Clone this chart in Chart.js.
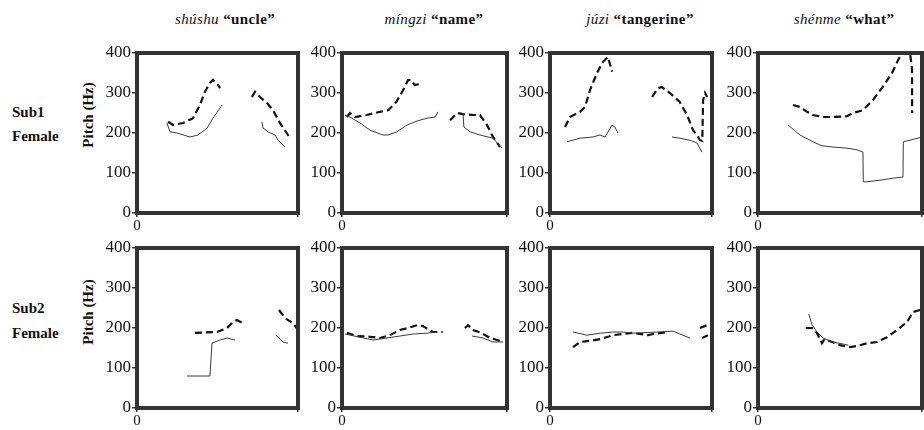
<!DOCTYPE html>
<html>
<head>
<meta charset="utf-8">
<script src="https://cdn.jsdelivr.net/npm/chart.js@4"></script>
<style>
  body { margin: 0; background: #fff; overflow: hidden; }
  #figure { position: relative; width: 924px; height: 430px; font-family: 'Liberation Serif', 'Times New Roman', serif; color: #111; }
  #figure canvas { position: absolute; }
  .word-title { position: absolute; top: 9px; font-size: 15px; line-height: 20px; white-space: nowrap; transform: translateX(-50%); letter-spacing: 0.4px; }
  .word-title i { font-weight: normal; }
  .word-title b { font-weight: bold; }
  .row-label { position: absolute; left: 12px; font-size: 15px; font-weight: bold; line-height: 18px; white-space: nowrap; transform: translateY(-50%); }
  .axis-title { position: absolute; font-size: 15px; font-weight: bold; white-space: nowrap; transform: translate(-50%, -50%) rotate(-90deg); }
</style>
</head>
<body>
<div id="figure">
  <div class="word-title" style="left:225px"><i>shúshu</i> <b>“uncle”</b></div>
  <div class="word-title" style="left:434px"><i>míngzi</i> <b>“name”</b></div>
  <div class="word-title" style="left:640px"><i>júzi</i> <b>“tangerine”</b></div>
  <div class="word-title" style="left:844px"><i>shénme</i> <b>“what”</b></div>

  <div class="row-label" style="top:112px">Sub1</div>
  <div class="row-label" style="top:136px">Female</div>
  <div class="row-label" style="top:308px">Sub2</div>
  <div class="row-label" style="top:333px">Female</div>

  <div class="axis-title" style="left:88px; top:115px">Pitch (Hz)</div>
  <div class="axis-title" style="left:88px; top:312px">Pitch (Hz)</div>
</div>
<script>
  'use strict';

  // Pitch tracks: [normalised time (%), pitch (Hz)], null marks a break in the track
  const sub1ShushuSolid = [[18.6, 225], [20.5, 203], [24.8, 200], [32.9, 190], [37.9, 195], [43.5, 212], [47.2, 237], [52.8, 270], null,
    [77.6, 228], [78.3, 212], [81.4, 203], [85.7, 195], [87.6, 182], [91.9, 165]];
  const sub1ShushuDashed = [[19.3, 228], [22.4, 220], [28.6, 225], [34.8, 237], [39.1, 270], [42.2, 303], [45.3, 325], [47.2, 333], [50.3, 320], [51.6, 312], null,
    [71.4, 290], [73.3, 303], [76.4, 290], [80.7, 275], [84.5, 257], [88.8, 225], [93, 200], [95, 187]];

  const sub1MingziSolid = [[1.8, 245], [4.8, 240], [10.9, 225], [17, 207], [24.8, 195], [27.9, 195], [33.3, 203], [39.4, 220], [45.5, 230], [51.5, 237], [56.4, 240], [58.2, 253], null,
    [73.3, 250], [73.9, 215], [77.6, 203], [83.6, 195], [88.5, 190], [91.5, 187], [97, 162]];
  const sub1MingziDashed = [[3, 240], [4.8, 250], [7.9, 240], [15, 245], [23, 253], [28, 257], [33, 278], [37, 307], [40, 332], [42, 332], [44, 320], [46.7, 322], null,
    [65.5, 232], [69.7, 250], [73.3, 247], [79.4, 245], [83.6, 245], [87.9, 220], [91.5, 190], [95.8, 165]];

  const sub1JuziSolid = [[10.5, 178], [18.5, 187], [26.5, 190], [30.9, 195], [34, 190], [38.3, 220], [40, 215], [42, 200], null,
    [75.3, 190], [80, 187], [86.4, 182], [90.7, 175], [93.8, 152]];
  const sub1JuziDashed = [[9.3, 215], [12.3, 240], [18.5, 253], [21.6, 265], [24.7, 307], [29, 350], [32.7, 378], [35.8, 390], [38.3, 353], null,
    [63, 290], [66.7, 312], [69, 315], [74, 300], [80, 278], [84.6, 245], [88.3, 207], [90.7, 195], [92.6, 182], [94, 180], [94.5, 282], [95.7, 300], [97, 290]];

  const sub1ShenmeSolid = [[18.3, 220], [20.7, 212], [25.6, 195], [33.5, 178], [39, 168], [45.7, 165], [54.3, 162], [60.4, 158], [64, 152], [64.2, 78],
    [66.5, 78], [74.4, 82], [82.3, 87], [88.4, 90], [88.6, 178], [92.7, 182], [100, 190]];
  const sub1ShenmeDashed = [[21.3, 270], [25.6, 265], [29.9, 253], [33.5, 245], [39.6, 240], [45.7, 240], [54.3, 242], [57.9, 250], [64, 257], [70, 282],
    [76, 315], [81.7, 350], [85.4, 382], [87.8, 400], [92.7, 400], [93.9, 360], [94, 250]];

  const sub2ShushuSolid = [[31, 80], [45.3, 80], [46.6, 162], [51.5, 170], [55.9, 175], [60.9, 170], null,
    [86.3, 182], [90.7, 165], [93.8, 162]];
  const sub2ShushuDashed = [[36, 188], [49.7, 190], [55.9, 200], [59.6, 215], [62, 220], [65.8, 212], null,
    [88.2, 245], [91.9, 225], [96.9, 212], [100, 195]];

  const sub2MingziSolid = [[1.8, 185], [9.7, 178], [18.8, 170], [27.3, 175], [35.2, 180], [43, 185], [51.5, 187], [57.6, 190], null,
    [78.8, 180], [85.5, 175], [91.5, 165], [97.6, 165]];
  const sub2MingziDashed = [[3, 188], [9, 180], [17, 178], [23, 175], [29, 182], [35, 195], [40, 200], [45.5, 207], [49, 205], [55, 190], [61, 190], null,
    [74.5, 200], [76.4, 207], [79.4, 195], [84.8, 187], [89.7, 175], [95.8, 168], [98, 168]];

  const sub2JuziSolid = [[14.2, 190], [22.8, 182], [30.9, 187], [38.9, 190], [45, 190], [51, 187], [66.7, 190], [76, 192], [82, 182], [86.4, 175]];
  const sub2JuziDashed = [[14.2, 152], [18.5, 165], [24.7, 168], [30.9, 172], [38.9, 182], [51, 188], [60.5, 182], [63.6, 185], [72.2, 190], null,
    [92.6, 200], [96.9, 207], null, [94, 175], [97.5, 182]];

  const sub2ShenmeSolid = [[31, 235], [33, 207], [36, 190], [39.6, 175], [45.7, 165], [51.8, 160], [55, 157]];
  const sub2ShenmeDashed = [[29.3, 200], [33, 200], [36, 187], [39, 162], [40.5, 172], [42, 170], [50, 157], [56, 152], [60.4, 155], [66.5, 162],
    [72.6, 165], [78.7, 177], [84.8, 195], [90.9, 215], [94.5, 240], [98.8, 245]];

  const pitchTicks = [0, 100, 200, 300, 400];

  // Plot boxes of the 2 x 4 grid
  const panelCols = [{ left: 137, width: 161 }, { left: 342, width: 165 }, { left: 550, width: 162 }, { left: 758, width: 164 }];
  const panelRows = [{ top: 53, height: 160 }, { top: 248, height: 160 }];
  const panels = [
    { row: 0, col: 0, solid: sub1ShushuSolid, dashed: sub1ShushuDashed },
    { row: 0, col: 1, solid: sub1MingziSolid, dashed: sub1MingziDashed },
    { row: 0, col: 2, solid: sub1JuziSolid, dashed: sub1JuziDashed },
    { row: 0, col: 3, solid: sub1ShenmeSolid, dashed: sub1ShenmeDashed },
    { row: 1, col: 0, solid: sub2ShushuSolid, dashed: sub2ShushuDashed },
    { row: 1, col: 1, solid: sub2MingziSolid, dashed: sub2MingziDashed },
    { row: 1, col: 2, solid: sub2JuziSolid, dashed: sub2JuziDashed },
    { row: 1, col: 3, solid: sub2ShenmeSolid, dashed: sub2ShenmeDashed }
  ];

  const AXIS_WIDTH = 40;
  const AXIS_HEIGHT = 22;
  const PAD_TOP = 12;
  const PAD_RIGHT = 6;
  const tickFont = { family: "'Liberation Serif', 'Times New Roman', serif", size: 17 };
  const timeTickFont = { family: "'Liberation Serif', 'Times New Roman', serif", size: 15 };

  // Thick box round the plot area
  const framePlugin = {
    id: 'panelFrame',
    afterDatasetsDraw(chart) {
      const a = chart.chartArea;
      const ctx = chart.ctx;
      ctx.save();
      ctx.strokeStyle = '#333';
      ctx.lineWidth = 4;
      ctx.strokeRect(a.left, a.top, a.right - a.left, a.bottom - a.top);
      ctx.restore();
    }
  };

  function toPoints(list) {
    return list.map(function (p, i) {
      if (p) return { x: p[0], y: p[1] };
      return { x: (list[i - 1][0] + list[i + 1][0]) / 2, y: null };
    });
  }

  function buildPanel(panel) {
    const col = panelCols[panel.col];
    const row = panelRows[panel.row];
    const canvas = document.createElement('canvas');
    const w = col.width + AXIS_WIDTH + PAD_RIGHT;
    const h = row.height + PAD_TOP + AXIS_HEIGHT;
    canvas.width = w;
    canvas.height = h;
    canvas.style.width = w + 'px';
    canvas.style.height = h + 'px';
    canvas.style.left = (col.left - AXIS_WIDTH) + 'px';
    canvas.style.top = (row.top - PAD_TOP) + 'px';
    document.getElementById('figure').appendChild(canvas);

    return new Chart(canvas.getContext('2d'), {
      type: 'line',
      data: {
        datasets: [
          {
            label: 'solid',
            data: toPoints(panel.solid),
            borderColor: '#3a3a3a',
            borderWidth: 1,
            pointRadius: 0,
            tension: 0,
            spanGaps: false
          },
          {
            label: 'dashed',
            data: toPoints(panel.dashed),
            borderColor: '#111',
            borderWidth: 2.2,
            borderDash: [7, 4],
            pointRadius: 0,
            tension: 0,
            spanGaps: false
          }
        ]
      },
      options: {
        responsive: false,
        animation: false,
        events: [],
        layout: { padding: { top: PAD_TOP, right: PAD_RIGHT, left: 0, bottom: 0 } },
        plugins: {
          legend: { display: false },
          tooltip: { enabled: false }
        },
        scales: {
          x: {
            type: 'linear',
            min: 0,
            max: 100,
            afterFit: function (scale) { scale.height = AXIS_HEIGHT; },
            afterBuildTicks: function (scale) { scale.ticks = [{ value: 0 }, { value: 100 }]; },
            ticks: {
              font: timeTickFont,
              color: '#111',
              padding: 0,
              maxRotation: 0,
              autoSkip: false,
              callback: function (value) { return value === 0 ? '0' : ''; }
            },
            grid: { drawOnChartArea: false, tickLength: 4, color: '#333', lineWidth: 1.5 },
            border: { display: false }
          },
          y: {
            min: 0,
            max: 400,
            afterFit: function (scale) { scale.width = AXIS_WIDTH; },
            afterBuildTicks: function (scale) { scale.ticks = pitchTicks.map(function (v) { return { value: v }; }); },
            ticks: {
              font: tickFont,
              color: '#111',
              padding: 1
            },
            grid: { drawOnChartArea: false, tickLength: 5, color: '#333', lineWidth: 1.5 },
            border: { display: false }
          }
        }
      },
      plugins: [framePlugin]
    });
  }

  panels.forEach(buildPanel);
</script>
</body>
</html>
